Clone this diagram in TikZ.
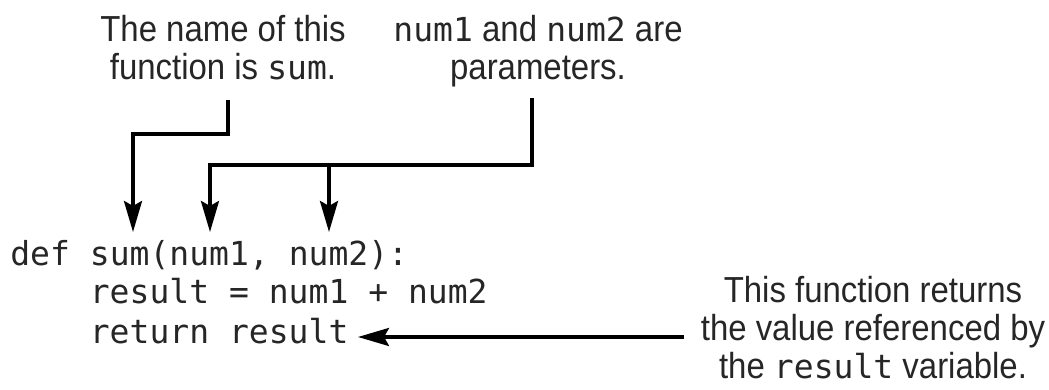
\documentclass[tikz,border=0pt]{standalone}
\usepackage{fontspec}
\setmainfont{Liberation Sans}[FakeStretch=0.91]
\newfontfamily\codefont{DejaVu Sans Mono}
\usetikzlibrary{arrows.meta}
\newcommand\notesize{\fontsize{20.6}{21.5}\selectfont}
\newcommand\codesize{\fontsize{18.8}{21.5}\selectfont}
\newcommand\inl[1]{{\codesize\codefont #1}}
\begin{document}
\begin{tikzpicture}[every node/.style={font=\notesize,inner sep=0pt,text=black!85},
  note/.style={align=center,anchor=north},
  code/.style={font=\codesize\codefont,anchor=base west},
  conn/.style={line width=2pt},
  arr/.style={conn,-{Stealth[length=0.62cm,width=0.36cm,inset=0.1cm]}}]
\useasboundingbox (0,0) rectangle (20.98,7.8);
% callouts
\node[note] (namelbl) at (4.46,7.5) {The name of this\\function is \inl{sum}.};
\node[note] (parlbl) at (10.76,7.5) {\inl{num1} and \inl{num2} are\\parameters.};
\node[note] (retlbl) at (17.46,2.28) {This function returns\\the value referenced by\\the \inl{result} variable.};
% code
\node[code] (defline) at (0.2,2.48) {def sum(num1, num2):};
\node[code] (resline) at (1.79,1.72) {result = num1 + num2};
\node[code] (retline) at (1.79,0.92) {return result};
\coordinate (namefoot) at (4.56,5.8);
\coordinate (parfoot) at (10.64,5.84);
\coordinate (parjoin) at (6.58,4.5);
\coordinate (sumtip) at (2.66,3.16);
\coordinate (n1tip) at (4.2,3.16);
\coordinate (n2tip) at (6.58,3.16);
\coordinate (rettip) at (7.16,1.06);
\draw[arr] (namefoot) -- ++(0,-0.68) -| (sumtip);
\draw[arr] (parfoot) |- (n1tip |- parjoin) -- (n1tip);
\draw[arr] (parjoin) -- (n2tip);
\draw[arr] (retlbl.west |- rettip) ++(-0.33,0) -- (rettip);
\end{tikzpicture}
\end{document}
